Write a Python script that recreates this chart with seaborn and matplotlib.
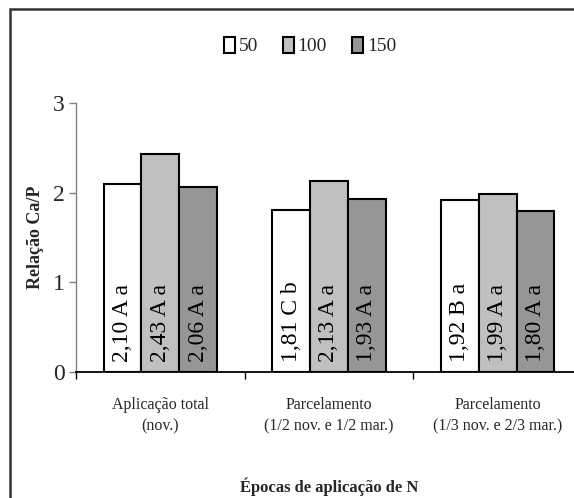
import matplotlib
matplotlib.use("Agg")
import matplotlib.pyplot as plt
from matplotlib.patches import Rectangle
import numpy as np
import pandas as pd
import seaborn as sns

# Data
epocas = ["Aplicação total\n(nov.)",
          "Parcelamento\n(1/2 nov. e 1/2 mar.)",
          "Parcelamento\n(1/3 nov. e 2/3 mar.)"]
doses = ["50", "100", "150"]
dose_50 = [2.10, 1.81, 1.92]
dose_100 = [2.43, 2.13, 1.99]
dose_150 = [2.06, 1.93, 1.80]
letras_50 = ["A a", "C b", "B a"]
letras_100 = ["A a", "A a", "A a"]
letras_150 = ["A a", "A a", "A a"]
y_ticks = [0, 1, 2, 3]

valores = [dose_50, dose_100, dose_150]
letras = [letras_50, letras_100, letras_150]

df = pd.DataFrame({
    "epoca": np.repeat([epocas], 3, axis=0).ravel(),
    "dose": np.repeat(doses, len(epocas)),
    "relacao": np.ravel(valores),
})

sns.set_theme(style="white")
plt.rcParams["font.family"] = ["Liberation Serif", "DejaVu Serif"]

W, H = 574, 498
fig = plt.figure(figsize=(W / 100, H / 100), dpi=100)
fig.patch.set_facecolor("white")

# axes placed in pixel terms (right edge runs past the canvas)
ax_l, ax_r, ax_b, ax_t = 76, 582, 372, 103
ax = fig.add_axes([ax_l / W, 1 - ax_b / H, (ax_r - ax_l) / W, (ax_b - ax_t) / H])

cores = ["#FFFFFF", "#C0C0C0", "#969696"]
sns.barplot(data=df, x="epoca", y="relacao", hue="dose", hue_order=doses,
            order=epocas, palette=cores, width=0.67, gap=0,
            edgecolor="black", linewidth=1.5, saturation=1, ax=ax,
            errorbar=None, legend=True)

# value labels inside the bars, written upward
for cont, serie, let in zip(ax.containers, valores, letras):
    for bar, v, l in zip(cont, serie, let):
        txt = f"{v:.2f}".replace(".", ",") + " " + l
        ax.annotate(txt, xy=(bar.get_x() + bar.get_width() / 2, 0),
                    xytext=(0, 7), textcoords="offset points",
                    rotation=90, ha="center", va="bottom",
                    fontsize=17, color="black")

ax.set_xlim(-0.5, 2.5)
ax.set_ylim(0, 3)
ax.set_yticks(y_ticks)
ax.set_yticklabels([str(t) for t in y_ticks], fontsize=17)
ax.set_xticks(range(len(epocas)))
ax.set_xticklabels(epocas, fontsize=11.5, linespacing=1.45)
ax.set_xticks([-0.5, 0.5, 1.5, 2.5], minor=True)
ax.tick_params(axis="x", which="major", length=0, pad=18)
ax.tick_params(axis="x", which="minor", length=5, width=1, color="black",
               direction="out", bottom=True)
ax.tick_params(axis="y", length=5, width=1, color="#808080",
               direction="out", left=True, pad=3)
ax.set_xlabel("")
ax.set_ylabel("")

for s in ["top", "right"]:
    ax.spines[s].set_visible(False)
ax.spines["left"].set_color("#808080")
ax.spines["left"].set_linewidth(1.0)
ax.spines["bottom"].set_color("black")
ax.spines["bottom"].set_linewidth(1.3)

# legend on top
handles, labels = ax.get_legend_handles_labels()
ax.get_legend().remove()
fig.legend(handles, labels, loc="center", bbox_to_anchor=(310 / W, 1 - 46 / H),
           ncol=3, frameon=False, fontsize=14, handlelength=0.55,
           handleheight=0.9, handletextpad=0.2, columnspacing=1.3,
           borderaxespad=0)

fig.text(36 / W, 1 - 237 / H, "Relação Ca/P", rotation=90, ha="center",
         va="center", fontsize=13, fontweight="bold")
fig.text(329 / W, 1 - 487 / H, "Épocas de aplicação de N", ha="center",
         va="center", fontsize=12, fontweight="bold")

# outer chart frame (only the left and top edges fall inside the canvas)
fig.patches.append(Rectangle((9.5 / W, -0.05), 1.2, 1 - 9.5 / H + 0.05,
                             transform=fig.transFigure, fill=False,
                             edgecolor="#333333", linewidth=1.8))

fig.savefig("out.png", dpi=100)
